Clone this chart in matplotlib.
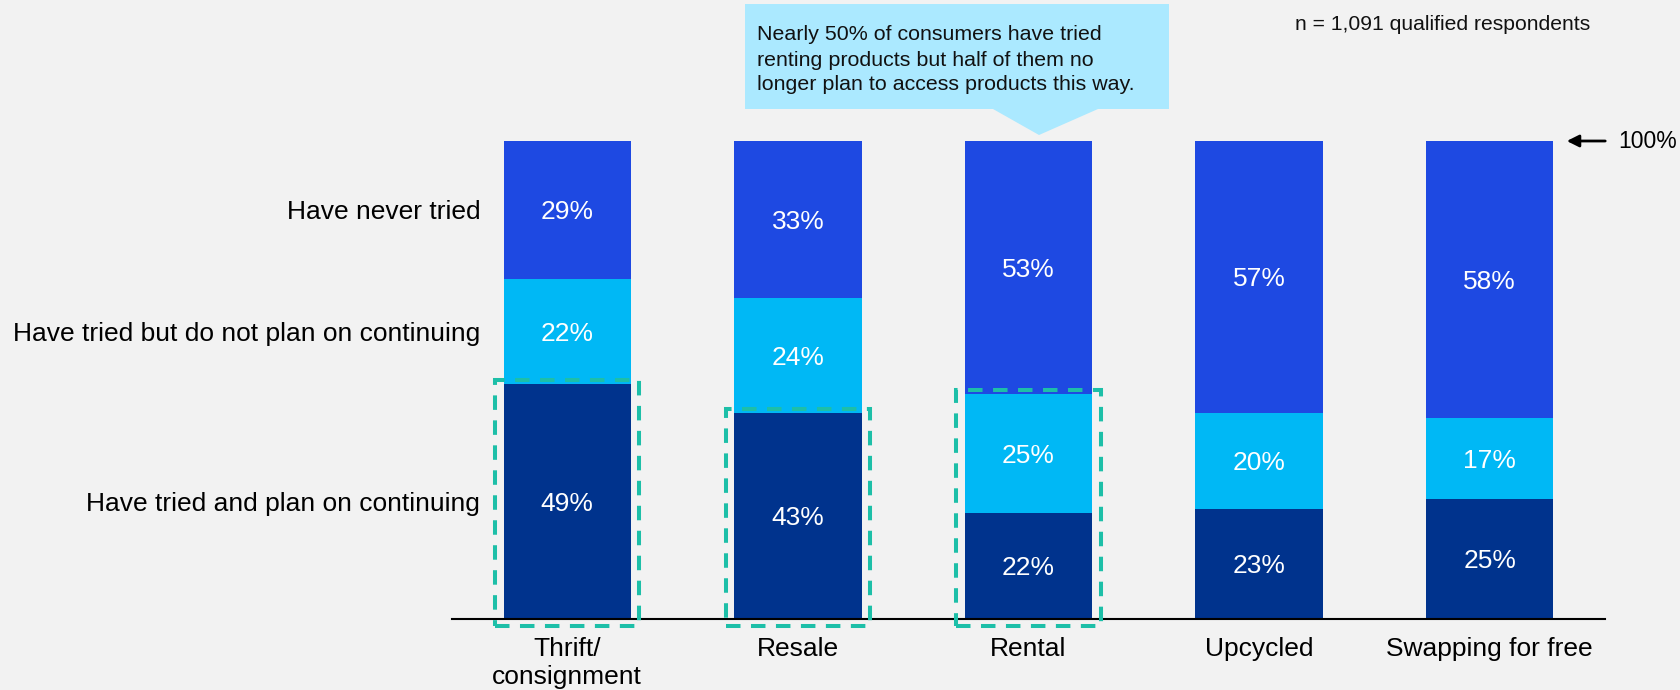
import matplotlib.pyplot as plt
import numpy as np
from matplotlib.patches import Rectangle, Polygon

plt.rcParams['font.family'] = ['Liberation Sans', 'DejaVu Sans']

categories = ["Thrift/\nconsignment", "Resale", "Rental", "Upcycled", "Swapping for free"]
tried_continue = [49, 43, 22, 23, 25]
tried_stop = [22, 24, 25, 20, 17]
never_tried = [29, 33, 53, 57, 58]
row_labels = ["Have tried and plan on continuing",
              "Have tried but do not plan on continuing",
              "Have never tried"]
# which bars get the dashed highlight, and how many segments it wraps
highlight = {0: 1, 1: 1, 2: 2}

colors = ["#00338D", "#00B8F5", "#1E49E2"]
bg = "#F2F2F2"
teal = "#1DBFA8"

W, H = 1681, 690
fig = plt.figure(figsize=(W / 100, H / 100), dpi=100, facecolor=bg)
ax = fig.add_axes([452 / W, (H - 618.5) / H, (1605 - 452) / W, 478 / H])
ax.set_facecolor(bg)

x = np.arange(len(categories))
bw = 0.553
series = [tried_continue, tried_stop, never_tried]
bottom = np.zeros(len(categories))
for vals, col in zip(series, colors):
    vals = np.array(vals)
    ax.bar(x, vals, bw, bottom=bottom, color=col, linewidth=0)
    for xi, b, v in zip(x, bottom, vals):
        ax.text(xi, b + v / 2 - 0.5, f"{v}%", ha="center", va="center",
                color="white", fontsize=19)
    bottom = bottom + vals

# row labels on the left, centred on the first bar's segments
first = np.cumsum([s[0] for s in series])
seg_mid = first - np.array([s[0] for s in series]) / 2
for lab, ym in zip(row_labels, seg_mid):
    ax.text(-0.378, ym - 0.5, lab, ha="right", va="center", fontsize=19,
            color="black")

# dashed highlight boxes
for i, nseg in highlight.items():
    top = sum(s[i] for s in series[:nseg])
    pad = 0.036
    rect = Rectangle((i - bw / 2 - pad, -1.6), bw + 2 * pad, top + 2.4,
                     fill=False, edgecolor=teal, linewidth=2.9,
                     linestyle=(0, (3.6, 2.6)), clip_on=False, zorder=5)
    ax.add_patch(rect)

ax.set_xlim(-0.5, 4.5)
ax.set_ylim(0, 100)
ax.set_xticks(x)
ax.set_xticklabels(categories, fontsize=19, linespacing=1.25)
ax.tick_params(axis="x", length=0, pad=13)
ax.set_yticks([])
for s in ["top", "right", "left"]:
    ax.spines[s].set_visible(False)
ax.spines["bottom"].set_linewidth(1.5)
ax.spines["bottom"].set_color("black")

# overlay in pixel coordinates for annotations
ov = fig.add_axes([0, 0, 1, 1])
ov.set_xlim(0, W)
ov.set_ylim(H, 0)
ov.axis("off")
ov.patch.set_alpha(0)

callout = Polygon([(745, 4), (1169, 4), (1169, 109), (1098, 109), (1039, 135),
                   (993, 109), (745, 109)], closed=True,
                  facecolor="#ABE9FF", edgecolor="none")
ov.add_patch(callout)
ov.text(757, 60, "Nearly 50% of consumers have tried\nrenting products but half of them no\n"
        "longer plan to access products this way.", ha="left", va="center",
        fontsize=15.4, linespacing=1.4, color="#111111")

ov.text(1295, 25, "n = 1,091 qualified respondents", ha="left", va="center",
        fontsize=15.2, color="#111111")

ov.annotate("", xy=(1564, 141), xytext=(1608, 141),
            arrowprops=dict(arrowstyle="-|>", color="black", lw=2,
                            mutation_scale=18))
ov.text(1618, 141, "100%", ha="left", va="center", fontsize=16.5)

fig.savefig("out.png", dpi=100, facecolor=bg)
